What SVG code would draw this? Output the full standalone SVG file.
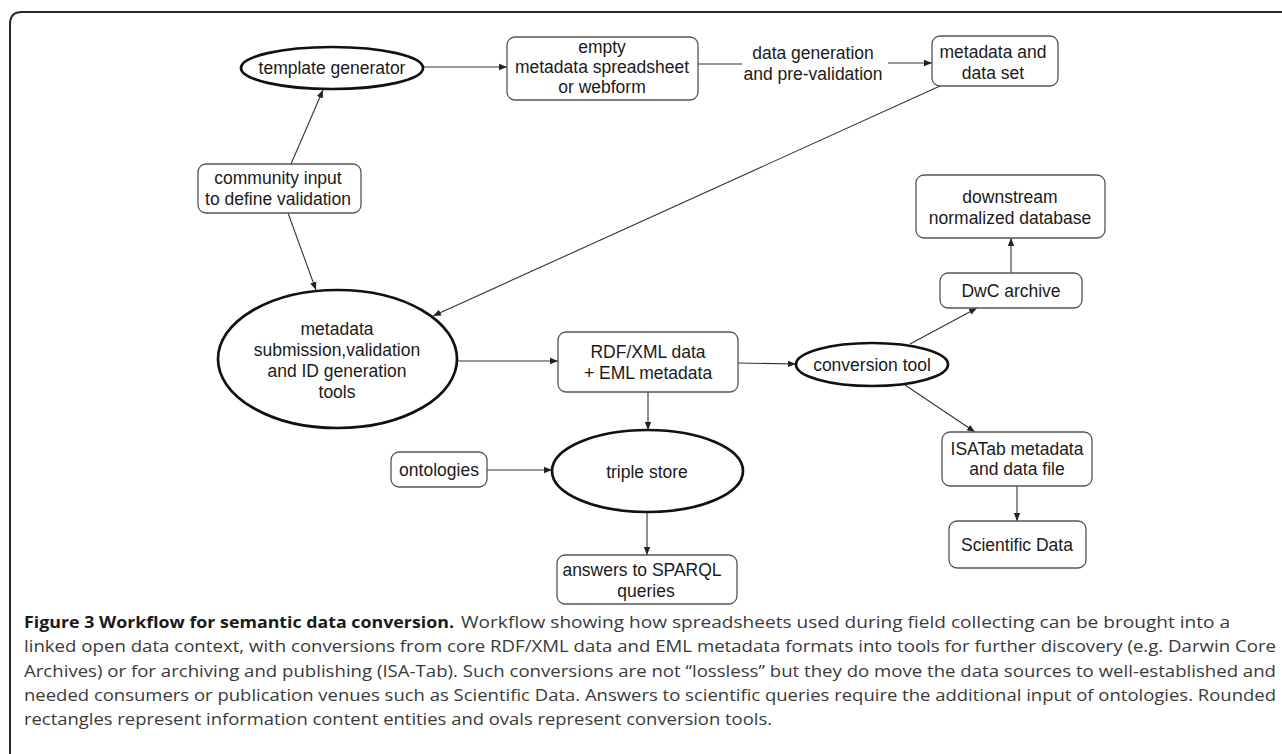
<svg xmlns="http://www.w3.org/2000/svg" width="1282" height="754" viewBox="0 0 1282 754">
<defs>
<marker id="arr" markerUnits="userSpaceOnUse" markerWidth="9" markerHeight="8" viewBox="0 0 9 8" refX="8" refY="4" orient="auto">
<path d="M0,0.8 L8,4 L0,7.2 Z" fill="#222"/>
</marker>
<style>
.box{fill:#fff;stroke:#555;stroke-width:1.3}
.ell{fill:#fff;stroke:#111;stroke-width:2.7}
.t{font-family:"Liberation Sans",Arial,sans-serif;font-size:17.5px;fill:#1a1a1a;text-anchor:middle}
.c{stroke:#333;stroke-width:1.1;fill:none}
.ca{stroke:#333;stroke-width:1.1;fill:none;marker-end:url(#arr)}
.cap{font-family:"Open Sans","Noto Sans",sans-serif;font-size:16.5px;fill:#3a3a3a}
.capb{font-family:"Open Sans","Noto Sans",sans-serif;font-size:16.5px;font-weight:bold;fill:#1a1a1a}
</style>
</defs>
<rect width="1282" height="754" fill="#fff"/>
<path d="M10,760 L10,24 Q10,12 22,12 L1290,12" fill="none" stroke="#2a2a2a" stroke-width="2"/>

<g id="connectors">
<line class="ca" x1="291" y1="164" x2="323" y2="90"/>
<line class="ca" x1="288" y1="213" x2="316" y2="290"/>
<line class="ca" x1="424" y1="67" x2="507" y2="67"/>
<line class="c" x1="698" y1="64" x2="742" y2="64"/>
<line class="ca" x1="888" y1="63" x2="932" y2="63"/>
<line class="ca" x1="940" y1="86" x2="433" y2="316"/>
<line class="ca" x1="457" y1="361" x2="558" y2="361"/>
<line class="ca" x1="738" y1="363" x2="796" y2="364"/>
<line class="ca" x1="648" y1="392" x2="648" y2="430"/>
<line class="ca" x1="487" y1="470" x2="552" y2="470"/>
<line class="ca" x1="647" y1="512" x2="647" y2="555"/>
<line class="ca" x1="910" y1="344" x2="977" y2="308"/>
<line class="ca" x1="905" y1="385" x2="975" y2="432"/>
<line class="ca" x1="1011" y1="273" x2="1011" y2="238"/>
<line class="ca" x1="1017" y1="486" x2="1017" y2="521"/>
<text class="t" x="813" y="59">data generation</text>
<text class="t" x="813" y="80">and pre-validation</text>
</g>

<g id="template-generator">
<ellipse class="ell" cx="332" cy="68" rx="91" ry="21"/>
<text class="t" x="332" y="74">template generator</text>
</g>

<g id="empty-spreadsheet">
<rect class="box" x="507" y="37" width="191" height="63" rx="8"/>
<text class="t" x="602" y="53">empty</text>
<text class="t" x="602" y="73">metadata spreadsheet</text>
<text class="t" x="602" y="93">or webform</text>
</g>

<g id="metadata-data-set">
<rect class="box" x="932" y="36" width="126" height="50" rx="8"/>
<text class="t" x="993" y="58">metadata and</text>
<text class="t" x="993" y="79">data set</text>
</g>

<g id="community-input">
<rect class="box" x="198" y="164" width="163" height="49" rx="8"/>
<text class="t" x="278" y="184">community input</text>
<text class="t" x="278" y="205">to define validation</text>
</g>

<g id="submission-tools">
<ellipse class="ell" cx="337.5" cy="359" rx="119.5" ry="69"/>
<text class="t" x="337" y="335">metadata</text>
<text class="t" x="337" y="356">submission,validation</text>
<text class="t" x="337" y="377">and ID generation</text>
<text class="t" x="337" y="398">tools</text>
</g>

<g id="rdf-xml">
<rect class="box" x="558" y="332" width="180" height="60" rx="8"/>
<text class="t" x="648" y="358">RDF/XML data</text>
<text class="t" x="648" y="379">+ EML metadata</text>
</g>

<g id="conversion-tool">
<ellipse class="ell" cx="872" cy="364.5" rx="76" ry="21.5"/>
<text class="t" x="872" y="371">conversion tool</text>
</g>

<g id="downstream-db">
<rect class="box" x="916" y="175" width="189" height="63" rx="8"/>
<text class="t" x="1010" y="203">downstream</text>
<text class="t" x="1010" y="224">normalized database</text>
</g>

<g id="dwc-archive">
<rect class="box" x="940" y="273" width="142" height="35" rx="8"/>
<text class="t" x="1011" y="297">DwC archive</text>
</g>

<g id="isatab">
<rect class="box" x="942" y="432" width="150" height="54" rx="8"/>
<text class="t" x="1017" y="455">ISATab metadata</text>
<text class="t" x="1017" y="475">and data file</text>
</g>

<g id="scientific-data">
<rect class="box" x="949" y="521" width="137" height="47" rx="8"/>
<text class="t" x="1017" y="551">Scientific Data</text>
</g>

<g id="ontologies">
<rect class="box" x="391" y="452" width="96" height="35" rx="8"/>
<text class="t" x="439" y="476">ontologies</text>
</g>

<g id="triple-store">
<ellipse class="ell" cx="647.5" cy="471" rx="95.5" ry="41"/>
<text class="t" x="647" y="478">triple store</text>
</g>

<g id="sparql-answers">
<rect class="box" x="557" y="555" width="180" height="49" rx="8"/>
<text class="t" x="642" y="576">answers to SPARQL</text>
<text class="t" x="646" y="597">queries</text>
</g>

<g id="caption">
<text class="capb" x="24" y="628" textLength="430" lengthAdjust="spacingAndGlyphs">Figure 3 Workflow for semantic data conversion.</text>
<text class="cap" x="461" y="628" textLength="769" lengthAdjust="spacingAndGlyphs">Workflow showing how spreadsheets used during field collecting can be brought into a</text>
<text class="cap" x="24" y="652" textLength="1252" lengthAdjust="spacingAndGlyphs">linked open data context, with conversions from core RDF/XML data and EML metadata formats into tools for further discovery (e.g. Darwin Core</text>
<text class="cap" x="24" y="676.5" textLength="1252" lengthAdjust="spacingAndGlyphs">Archives) or for archiving and publishing (ISA-Tab). Such conversions are not “lossless” but they do move the data sources to well-established and</text>
<text class="cap" x="24" y="700.5" textLength="1252" lengthAdjust="spacingAndGlyphs">needed consumers or publication venues such as Scientific Data. Answers to scientific queries require the additional input of ontologies. Rounded</text>
<text class="cap" x="24" y="725" textLength="748" lengthAdjust="spacingAndGlyphs">rectangles represent information content entities and ovals represent conversion tools.</text>
</g>
</svg>
